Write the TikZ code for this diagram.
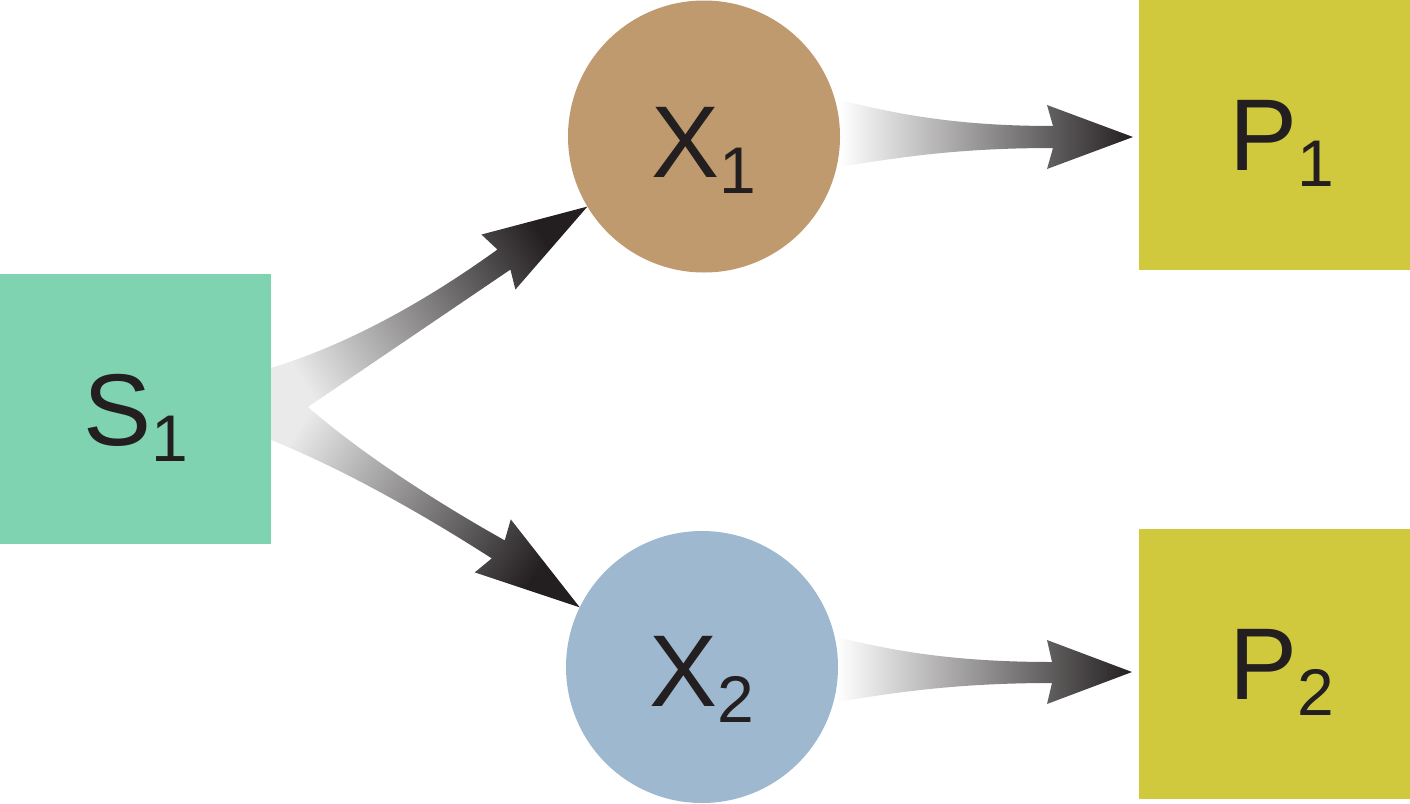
\documentclass[tikz,border=0pt]{standalone}
\usepackage{fontspec}
\setmainfont{Liberation Sans}
\usetikzlibrary{calc,backgrounds}
\definecolor{sgreen}{HTML}{7FD3B0}
\definecolor{xbrown}{HTML}{C09A6F}
\definecolor{xblue}{HTML}{9EB8D0}
\definecolor{pyellow}{HTML}{D1C93D}
\definecolor{txt}{HTML}{231F20}
\definecolor{arrowdark}{HTML}{231F20}
\definecolor{taillight}{HTML}{EAEAEA}
\newcommand\lab[3]{\raisebox{#3pt}{#1\raisebox{-16pt}{\fontsize{66}{66}\selectfont #2}}}
\tikzset{
  lbl/.style={text=txt, text height=73pt, text depth=0pt, inner sep=0pt, outer sep=0pt,
    font=\fontsize{102}{102}\selectfont},
  sqbox/.style={lbl, rectangle, draw=none, minimum height=270pt},
  roundnode/.style={lbl, circle, draw=none, minimum size=272pt},
  fatarrow/.style={bottom color=white, top color=arrowdark},
  diagarrow/.style={bottom color=taillight, top color=arrowdark}
}
\begin{document}
\begin{tikzpicture}[x=1pt,y=-1pt]
\useasboundingbox (0,0) rectangle (1410,803);
\node[sqbox, fill=sgreen, minimum width=271pt] (s1) at (135.5,409) {\lab{S}{1}{0}};
\node[roundnode, fill=xbrown] (x1) at (704,136.5) {\lab{X}{1}{-4}};
\node[roundnode, fill=xblue] (x2) at (702,667) {\lab{X}{2}{-2.5}};
\node[sqbox, fill=pyellow, minimum width=285pt] (p1) at (1281.5,135) {\lab{P}{1}{1.5}};
\node[sqbox, fill=pyellow, minimum width=285pt] (p2) at (1281.5,664) {\lab{P}{2}{1.5}};
\coordinate (h1) at ($(p1.west)+(-6,2)$);
\coordinate (h2) at ($(p2.west)+(-7,8)$);
\begin{pgfonlayer}{background}
% S1 -> X1
\shade[diagarrow, shading angle=-58.4]
  ($(s1.east)+(0,-41)$)
  .. controls +(75,-23) and +(-75,54) .. ($(x1.211)+(-90,43)$)
  -- ($(x1.211)+(-106,28)$)
  -- (x1.211)
  -- ($(x1.211)+(-72,83)$)
  -- ($(x1.211)+(-77,63)$)
  -- ($(s1.east)+(0,23)$) -- cycle;
% S1 -> X2
\shade[diagarrow, shading angle=-123.3]
  ($(s1.east)+(0,-39)$)
  .. controls +(40,48) and +(-100,-56) .. ($(x2.154)+(-75,-67)$)
  -- ($(x2.154)+(-69,-88)$)
  -- (x2.154)
  -- ($(x2.154)+(-105,-35)$)
  -- ($(x2.154)+(-88,-49)$)
  .. controls +(-70,-45) and +(70,28) .. ($(s1.east)+(0,31)$) -- cycle;
% X1 -> P1
\shade[fatarrow, shading angle=-90]
  ($(x1.east)+(0,-36.5)$)
  .. controls +(60,15) and +(-93,0) .. ($(h1)+(-80,-11)$)
  -- ($(h1)+(-86,-32)$) -- (h1) -- ($(h1)+(-86,32)$) -- ($(h1)+(-80,11)$)
  .. controls +(-93,0) and +(60,-10) .. ($(x1.east)+(0,30.5)$) -- cycle;
% X2 -> P2
\shade[fatarrow, shading angle=-90]
  ($(x2.east)+(-1,-30)$)
  .. controls +(60,15) and +(-93,0) .. ($(h2)+(-80,-10)$)
  -- ($(h2)+(-85,-32)$) -- (h2) -- ($(h2)+(-85,32)$) -- ($(h2)+(-80,11)$)
  .. controls +(-93,0) and +(60,-10) .. ($(x2.east)+(-1,35)$) -- cycle;
\end{pgfonlayer}
\end{tikzpicture}
\end{document}
